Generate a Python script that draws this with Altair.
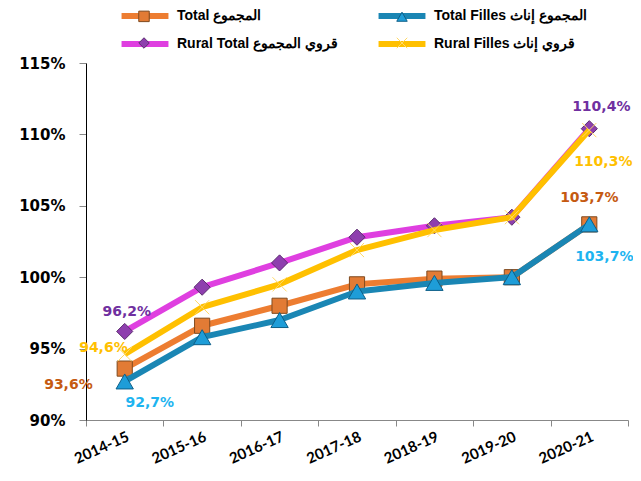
import altair as alt
import pandas as pd

years = ["2014-15", "2015-16", "2016-17", "2017-18", "2018-19", "2019-20", "2020-21"]
series = [
    "Total  المجموع",
    "Total Filles  المجموع إناث",
    "Rural Total  قروي المجموع",
    "Rural Filles  قروي  إناث",
]
total = [93.6, 96.6, 98.0, 99.5, 99.9, 100.0, 103.7]
total_filles = [92.7, 95.8, 97.0, 99.0, 99.6, 100.0, 103.7]
rural_total = [96.2, 99.3, 101.0, 102.8, 103.6, 104.2, 110.4]
rural_filles = [94.6, 97.9, 99.5, 101.9, 103.3, 104.2, 110.3]
y_ticks = [90, 95, 100, 105, 110, 115]

line_colors = ["#ED7D31", "#1A86B4", "#DF3FE0", "#FFC000"]
label_colors = ["#C55A11", "#1EB4F0", "#7030A0", "#FFC000"]
marker_shapes = ["square", "triangle-up", "diamond", "M-1,-1L1,1M-1,1L1,-1"]
marker_fills = ["#E27B35", "#1E9DD8", "#8E3FAE", "#FFD966"]
marker_strokes = ["#7F4A1F", "#0E5F88", "#5B2C6F", "#FFD966"]
marker_sizes = [230, 300, 260, 200]

# legend order (column-major: col 1 = Total, Rural Total; col 2 = Total Filles, Rural Filles)
order_idx = [0, 2, 1, 3]
legend_order = [series[i] for i in order_idx]
ZW = "\u200b"  # keeps the marker legend separate from the line legend
marker_order = [s + ZW for s in legend_order]

rows = []
for s, vals in zip(series, [total, total_filles, rural_total, rural_filles]):
    for yr, v in zip(years, vals):
        rows.append({"year": yr, "series": s, "marker": s + ZW, "value": v,
                     "label": f"{v:.1f}".replace(".", ",") + "%"})
df = pd.DataFrame(rows)

x_enc = alt.X(
    "year:N", sort=years, bandPosition=0.5,
    scale=alt.Scale(type="band", paddingInner=0, paddingOuter=0),
    axis=alt.Axis(title=None, tickBand="extent", labelAngle=-24, labelFont="Lato",
                  labelFontWeight="bold", labelFontSize=15, labelColor="black",
                  domainColor="#888888", tickColor="#888888", tickSize=6,
                  labelPadding=3, labelAlign="right", labelBaseline="top"),
)
y_enc = alt.Y(
    "value:Q",
    scale=alt.Scale(domain=[90, 115], nice=False, zero=False),
    axis=alt.Axis(title=None, values=y_ticks, labelExpr="datum.value + '%'",
                  labelFont="DejaVu Sans", labelFontWeight="bold", labelFontSize=15,
                  labelColor="black", domainColor="black", tickColor="#888888",
                  tickSize=7, labelPadding=14, grid=False),
)

line_legend = alt.Legend(
    title=None, orient="none", legendX=51, legendY=-55, columns=2,
    symbolType="M-5,0H5", symbolStrokeWidth=6, symbolSize=88,
    labelFont="Liberation Sans", labelFontWeight="bold", labelFontSize=14,
    labelColor="black", labelLimit=400, labelOffset=24,
    columnPadding=24, rowPadding=4,
)
color_enc = alt.Color("series:N",
                      scale=alt.Scale(domain=legend_order, range=[line_colors[i] for i in order_idx]),
                      legend=line_legend)

marker_legend = alt.Legend(
    title=None, orient="none", legendX=52, legendY=-53, columns=2,
    symbolSize=110, symbolStrokeWidth=1, labelExpr="''",
    columnPadding=240, rowPadding=11,
)
shape_enc = alt.Shape("marker:N",
                      scale=alt.Scale(domain=marker_order, range=[marker_shapes[i] for i in order_idx]),
                      legend=marker_legend)
fill_enc = alt.Fill("marker:N",
                    scale=alt.Scale(domain=marker_order, range=[marker_fills[i] for i in order_idx]),
                    legend=marker_legend)
stroke_enc = alt.Stroke("marker:N",
                        scale=alt.Scale(domain=marker_order, range=[marker_strokes[i] for i in order_idx]),
                        legend=marker_legend)

layers = []
for s, sz in zip(series, marker_sizes):
    base = alt.Chart(df).transform_filter(alt.datum.series == s)
    layers.append(base.mark_line(strokeWidth=6, strokeJoin="round").encode(
        x=x_enc, y=y_enc, color=color_enc))
    layers.append(base.mark_point(opacity=1, filled=True, size=sz, strokeWidth=1).encode(
        x=x_enc, y=y_enc, shape=shape_enc, fill=fill_enc, stroke=stroke_enc))

# label placements: (series index, year, dx, dy, align)
label_specs = [
    (2, "2014-15", 2, -19, "center"),
    (2, "2020-21", 12, -22, "center"),
    (3, "2014-15", 3, -6, "right"),
    (3, "2020-21", 14, 32, "center"),
    (0, "2014-15", -32, 16, "right"),
    (0, "2020-21", 0, -26, "center"),
    (1, "2014-15", 25, 22, "center"),
    (1, "2020-21", 15, 33, "center"),
]
for si, yr, dx, dy, align in label_specs:
    layers.append(
        alt.Chart(df)
        .transform_filter((alt.datum.series == series[si]) & (alt.datum.year == yr))
        .mark_text(dx=dx, dy=dy, align=align, baseline="middle", font="DejaVu Sans",
                   fontWeight="bold", fontSize=14, color=label_colors[si])
        .encode(x=x_enc, y=y_enc, text="label:N")
    )

chart = (
    alt.layer(*layers)
    .properties(width=542, height=357,
                padding={"left": 78, "top": 55, "right": 5, "bottom": 50},
                autosize=alt.AutoSizeParams(type="none"))
    .configure_view(stroke=None)
)
chart.save("out.html", embed_options={"renderer": "svg", "actions": False})
